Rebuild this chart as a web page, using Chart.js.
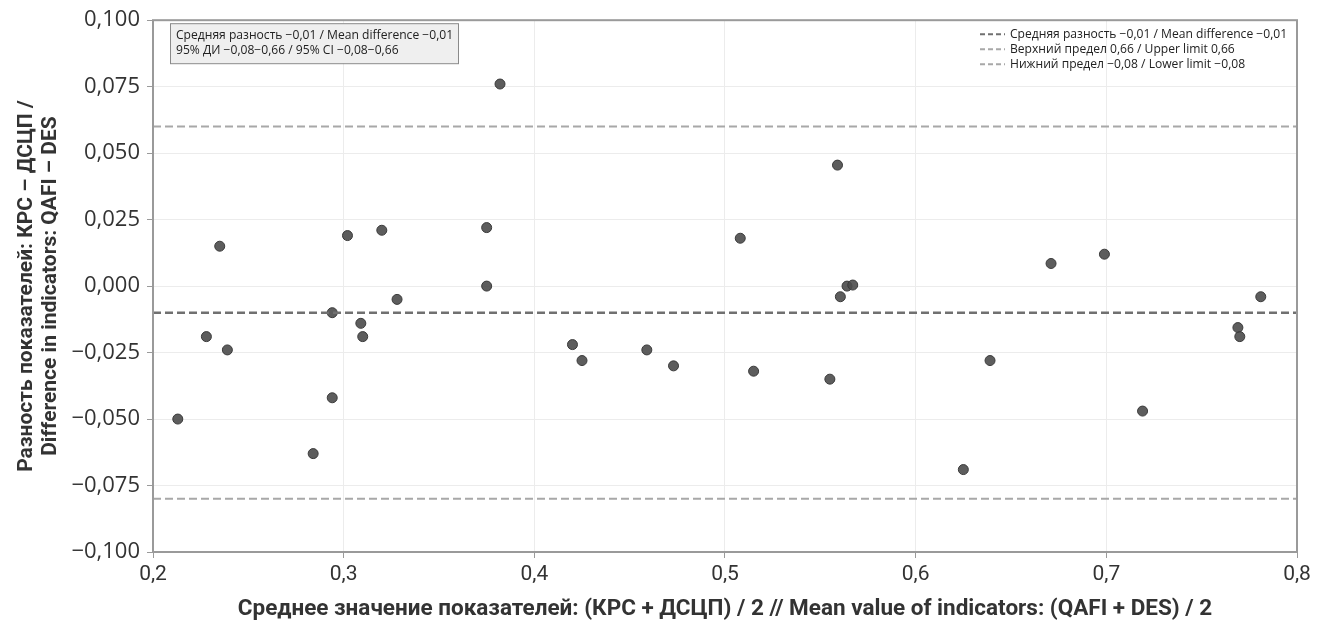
<!DOCTYPE html>
<html>
<head>
<meta charset="utf-8">
<script src="https://cdn.jsdelivr.net/npm/chart.js@4.4.1/dist/chart.umd.min.js"></script>
<style>
  html, body { margin: 0; padding: 0; background: #fff; }
  #wrap { width: 1320px; height: 628px; }
</style>
</head>
<body>
<div id="wrap"><canvas id="myChart"></canvas></div>
<script>
// Данные Бленда–Альтмана
const meanValues = [0.213, 0.228, 0.235, 0.239, 0.284, 0.294, 0.294, 0.302, 0.309, 0.310, 0.320, 0.328,
  0.375, 0.375, 0.382, 0.420, 0.425, 0.459, 0.473, 0.508, 0.515, 0.555, 0.559, 0.5605, 0.564, 0.567,
  0.625, 0.639, 0.671, 0.699, 0.719, 0.769, 0.770, 0.781];
const diffValues = [-0.050, -0.019, 0.015, -0.024, -0.063, -0.010, -0.042, 0.019, -0.014, -0.019, 0.021, -0.005,
  0.022, 0.000, 0.076, -0.022, -0.028, -0.024, -0.030, 0.018, -0.032, -0.035, 0.0455, -0.004, 0.000, 0.0004,
  -0.069, -0.028, 0.0085, 0.012, -0.047, -0.0156, -0.019, -0.004];
const meanDiff = -0.01;
const upperLimit = 0.06;
const lowerLimit = -0.08;
const xRange = [0.2, 0.8];

const legendLabels = [
  'Средняя разность −0,01 / Mean difference −0,01',
  'Верхний предел 0,66 / Upper limit 0,66',
  'Нижний предел −0,08 / Lower limit −0,08'
];
const boxLines = [
  'Средняя разность −0,01 / Mean difference −0,01',
  '95% ДИ −0,08−0,66 / 95% CI −0,08−0,66'
];
const xTitle = 'Среднее значение показателей: (КРС + ДСЦП) / 2 // Mean value of indicators: (QAFI + DES) / 2';
const yTitle = ['Разность показателей: КРС – ДСЦП /', 'Difference in indicators: QAFI – DES'];

const lineColors = ['#707070', '#a8a8a8', '#a8a8a8'];
const smallFont = '12.1px "Open Sans", "Noto Sans", sans-serif';

function fmt(v, digits) {
  if (Math.abs(v) < 1e-9) v = 0;
  return v.toFixed(digits).replace('.', ',').replace('-', '−');
}

function hLine(y) {
  return [{ x: xRange[0], y: y }, { x: xRange[1], y: y }];
}

// рамка, подпись слева и легенда справа
const extras = {
  id: 'extras',
  afterDraw(chart) {
    const c = chart.ctx;
    const a = chart.chartArea;
    c.save();
    c.strokeStyle = '#9a9a9a';
    c.lineWidth = 2;
    c.strokeRect(a.left, a.top, a.right - a.left, a.bottom - a.top);

    // блок с текстом
    c.fillStyle = '#efefef';
    c.fillRect(a.left + 17, a.top + 3, 288, 40);
    c.strokeStyle = '#8a8a8a';
    c.lineWidth = 1;
    c.strokeRect(a.left + 17.5, a.top + 3.5, 288, 40);
    c.fillStyle = '#222';
    c.font = smallFont;
    c.textBaseline = 'middle';
    c.fillText(boxLines[0], a.left + 23, a.top + 15);
    c.fillText(boxLines[1], a.left + 23, a.top + 30);

    // легенда
    legendLabels.forEach((t, i) => {
      const y = a.top + 14 + i * 15;
      c.strokeStyle = lineColors[i];
      c.lineWidth = 2;
      c.setLineDash([5, 3]);
      c.beginPath();
      c.moveTo(a.right - 317, y);
      c.lineTo(a.right - 292, y);
      c.stroke();
      c.setLineDash([]);
      c.fillStyle = '#222';
      c.fillText(t, a.right - 287, y);
    });
    c.restore();
  }
};

const ctx = document.getElementById('myChart').getContext('2d');
const myChart = new Chart(ctx, {
  type: 'scatter',
  data: {
    datasets: [
      {
        type: 'line',
        label: legendLabels[0],
        data: hLine(meanDiff),
        borderColor: lineColors[0],
        borderWidth: 2.5,
        borderDash: [8, 4],
        pointRadius: 0,
        fill: false
      },
      {
        type: 'line',
        label: legendLabels[1],
        data: hLine(upperLimit),
        borderColor: lineColors[1],
        borderWidth: 2,
        borderDash: [8, 4],
        pointRadius: 0,
        fill: false
      },
      {
        type: 'line',
        label: legendLabels[2],
        data: hLine(lowerLimit),
        borderColor: lineColors[2],
        borderWidth: 2,
        borderDash: [8, 4],
        pointRadius: 0,
        fill: false
      },
      {
        label: 'points',
        data: meanValues.map((x, i) => ({ x: x, y: diffValues[i] })),
        backgroundColor: 'rgba(75,75,75,0.9)',
        borderColor: '#3a3a3a',
        borderWidth: 1,
        pointRadius: 5
      }
    ]
  },
  options: {
    responsive: true,
    maintainAspectRatio: false,
    animation: false,
    layout: { padding: { top: 17, right: 23, left: 0, bottom: 0 } },
    plugins: {
      legend: { display: false },
      tooltip: { enabled: false }
    },
    scales: {
      x: {
        type: 'linear',
        min: 0.2,
        max: 0.8,
        afterFit(s) { s.height = 76; },
        border: { display: false },
        grid: { color: '#ececec', tickColor: '#9a9a9a', tickLength: 6, lineWidth: 1 },
        ticks: {
          stepSize: 0.1,
          padding: 4,
          color: '#333',
          font: { family: '"Liberation Sans Narrow", "Roboto", sans-serif', size: 21 },
          callback: v => fmt(v, 1)
        },
        title: {
          display: true,
          text: xTitle,
          color: '#333',
          padding: { top: 0, bottom: 5 },
          font: { family: '"Liberation Sans Narrow", "Roboto", sans-serif', size: 22.5, weight: 'bold' }
        }
      },
      y: {
        min: -0.1,
        max: 0.1,
        afterFit(s) { s.width = 153; },
        border: { display: false },
        grid: { color: '#ececec', tickColor: '#9a9a9a', tickLength: 6, lineWidth: 1 },
        ticks: {
          stepSize: 0.025,
          padding: 7,
          color: '#333',
          font: { family: '"Open Sans", "Noto Sans", sans-serif', size: 22 },
          callback: v => fmt(v, 3)
        },
        title: {
          display: true,
          text: yTitle,
          color: '#333',
          padding: { top: 15, bottom: 0 },
          font: { family: '"Liberation Sans Narrow", "Roboto", sans-serif', size: 21, weight: 'bold', lineHeight: 1.15 }
        }
      }
    }
  },
  plugins: [extras]
});
</script>
</body>
</html>
